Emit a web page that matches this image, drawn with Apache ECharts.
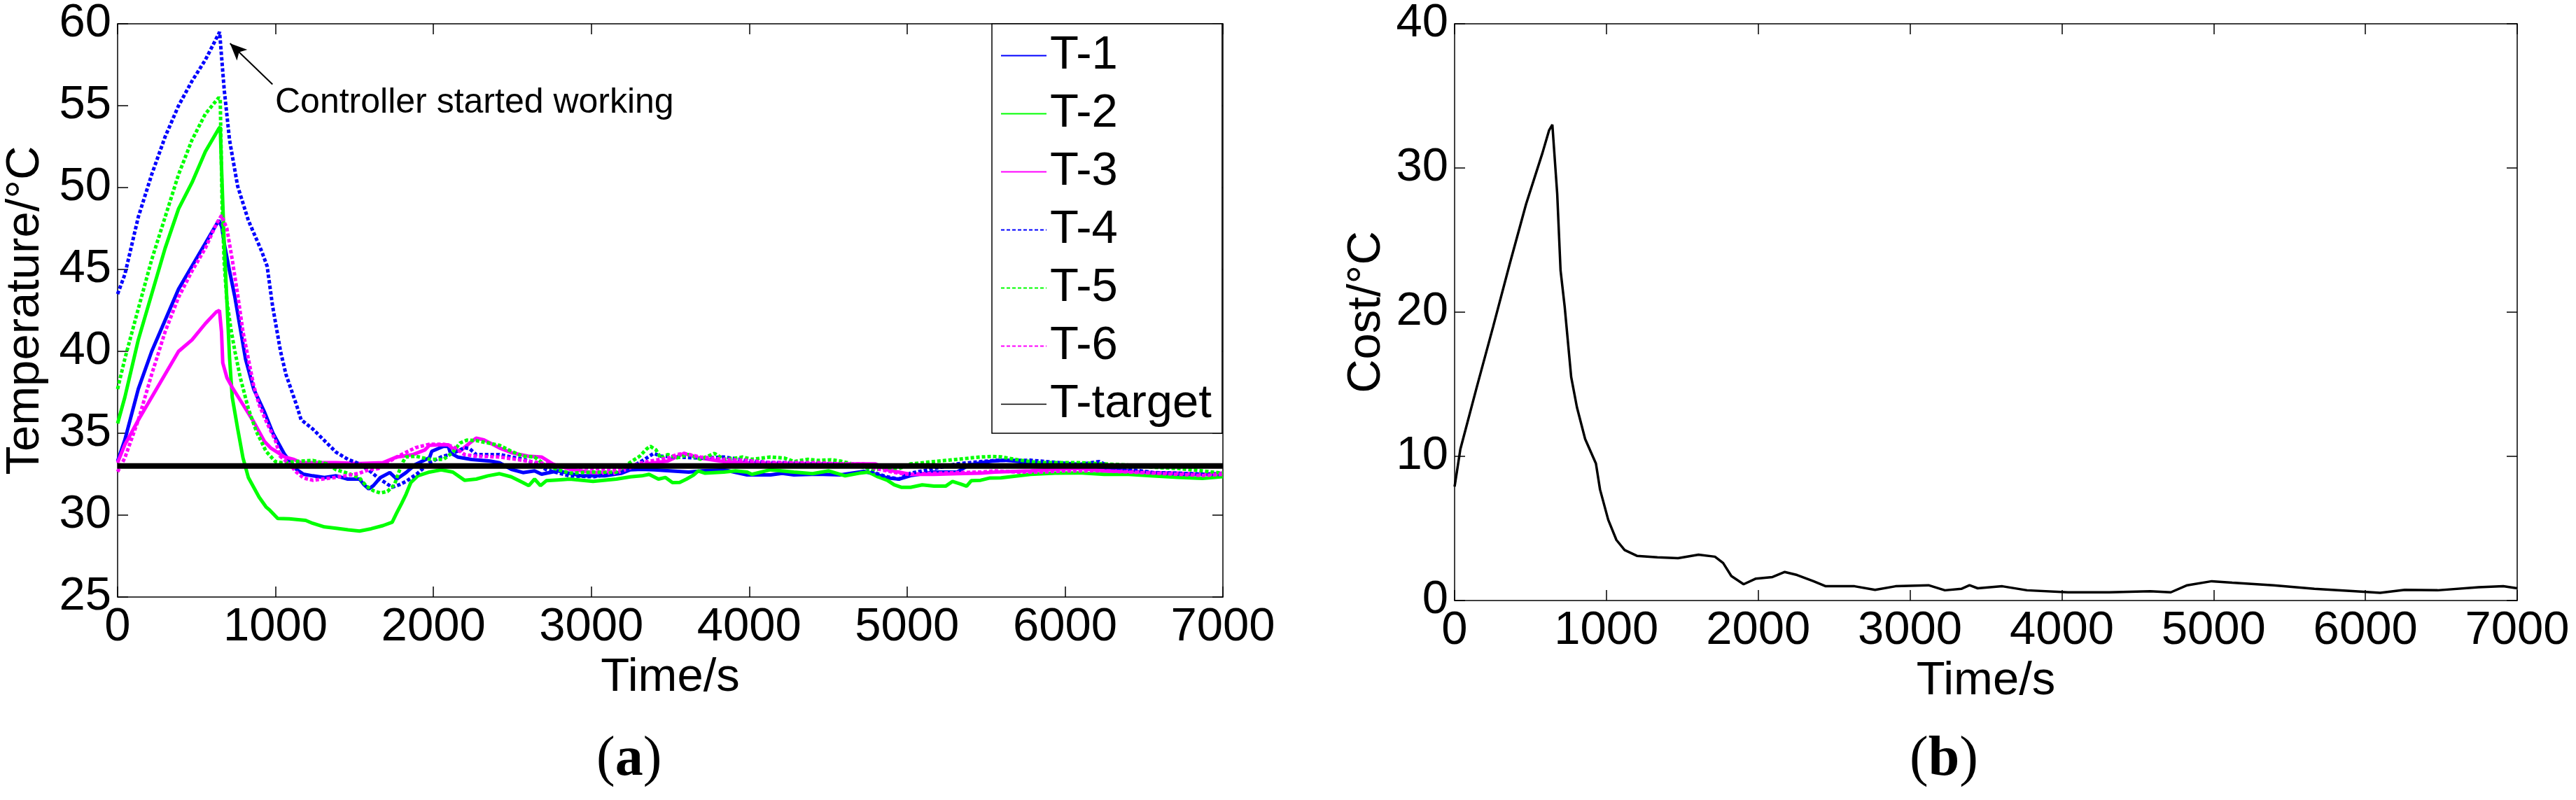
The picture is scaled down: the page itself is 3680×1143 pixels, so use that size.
<!DOCTYPE html>
<html>
<head>
<meta charset="utf-8">
<script src="https://cdn.jsdelivr.net/npm/echarts@6/dist/echarts.min.js"></script>
<style>
  html, body { margin: 0; padding: 0; background: #fff; }
  #chart { width: 3680px; height: 1143px; }
</style>
</head>
<body>
<div id="chart"></div>
<script>
// axis ranges / tick steps
const timeRange = [0, 7000]
const timeStep = 1000
const tempRange = [25, 60]
const tempStep = 5
const costRange = [0, 40]
const costStep = 10

// [time s, temperature °C]
const t1 = [[0,33.3],[46,34.6],[131,37.7],[216,40.0],[301,41.9],[386,43.8],[471,45.2],[556,46.6],[641,48.0],[660,47.6],[675,46.6],[709,44.9],[743,43.3],[777,41.4],[811,39.5],[862,37.7],[930,36.3],[984,35.0],[1058,33.7],[1132,32.8],[1177,32.5],[1236,32.4],[1310,32.3],[1384,32.4],[1458,32.2],[1532,32.2],[1561,31.85],[1591,31.6],[1620,31.8],[1665,32.3],[1724,32.6],[1768,32.2],[1827,32.6],[1887,33.1],[1975,33.5],[1990,33.9],[2064,34.2],[2094,34.2],[2108,33.8],[2153,33.55],[2242,33.4],[2360,33.3],[2419,33.2],[2493,32.8],[2567,32.6],[2641,32.7],[2685,32.5],[2789,32.7],[2937,32.4],[3085,32.4],[3188,32.55],[3248,32.77],[3320,32.8],[3400,32.77],[3617,32.63],[3700,32.7],[3839,32.77],[3987,32.46],[4135,32.46],[4209,32.55],[4283,32.46],[4431,32.5],[4578,32.46],[4726,32.67],[4800,32.5],[4874,32.27],[4948,32.2],[5022,32.41],[5170,32.63],[5318,32.63],[5392,33.06],[5466,33.2],[5540,33.3],[5625,33.35],[5781,33.2],[5937,33.06],[6092,33.0],[6248,32.85],[6403,32.7],[6559,32.56],[6714,32.49],[6870,32.49],[7000,32.55]]
const t2 = [[0,35.6],[46,37.2],[131,40.7],[216,43.5],[301,46.3],[386,48.7],[471,50.3],[556,52.2],[641,53.6],[650,53.7],[658,51.3],[675,46.6],[692,43.1],[709,39.6],[726,37.2],[760,35.3],[794,33.5],[828,32.3],[896,31.1],[940,30.5],[964,30.3],[1014,29.8],[1088,29.78],[1191,29.68],[1236,29.5],[1310,29.28],[1384,29.2],[1460,29.1],[1532,29.03],[1606,29.17],[1680,29.36],[1739,29.57],[1768,30.14],[1798,30.7],[1827,31.28],[1857,31.99],[1901,32.4],[1975,32.63],[2049,32.77],[2123,32.63],[2197,32.13],[2271,32.2],[2345,32.4],[2419,32.53],[2493,32.34],[2567,31.99],[2604,31.8],[2641,32.2],[2678,31.8],[2715,32.1],[2789,32.15],[2863,32.2],[3011,32.06],[3159,32.2],[3248,32.34],[3320,32.4],[3366,32.49],[3425,32.2],[3470,32.3],[3514,31.99],[3560,32.0],[3603,32.2],[3647,32.44],[3677,32.7],[3721,32.56],[3780,32.6],[3839,32.63],[3913,32.7],[3987,32.63],[4017,32.49],[4135,32.77],[4283,32.63],[4401,32.53],[4504,32.7],[4608,32.4],[4697,32.56],[4756,32.63],[4815,32.34],[4874,32.13],[4918,31.85],[4963,31.7],[5022,31.7],[5096,31.85],[5170,31.77],[5244,31.77],[5288,32.06],[5340,31.9],[5377,31.77],[5406,32.1],[5466,32.13],[5525,32.27],[5594,32.28],[5781,32.49],[5937,32.56],[6092,32.58],[6248,32.49],[6403,32.49],[6559,32.39],[6714,32.31],[6870,32.24],[7000,32.35]]
const t3 = [[0,33.2],[46,34.3],[131,35.8],[216,37.2],[301,38.6],[386,40.0],[471,40.7],[556,41.7],[624,42.4],[645,42.5],[658,41.2],[666,39.3],[692,38.4],[726,37.8],[794,36.75],[862,35.7],[930,34.5],[970,34.1],[1058,33.55],[1117,33.4],[1162,33.2],[1236,33.2],[1384,33.2],[1532,33.15],[1680,33.2],[1768,33.55],[1872,33.7],[1946,33.98],[1975,34.26],[2049,34.3],[2094,34.3],[2123,34.05],[2168,33.9],[2230,34.4],[2271,34.7],[2320,34.6],[2419,34.1],[2500,33.8],[2600,33.6],[2685,33.55],[2760,33.1],[2863,32.8],[3011,32.6],[3159,32.56],[3248,32.9],[3320,33.1],[3395,33.2],[3484,33.3],[3587,33.77],[3691,33.48],[3839,33.27],[3987,33.2],[4135,33.16],[4283,33.16],[4431,33.13],[4578,33.13],[4726,33.13],[4800,33.13],[4874,32.77],[4948,32.63],[5022,32.49],[5170,32.49],[5318,32.53],[5466,32.56],[5555,32.63],[5781,32.7],[5937,32.8],[6092,32.85],[6248,32.7],[6403,32.67],[6559,32.6],[6714,32.56],[6870,32.49],[7000,32.56]]
const t4 = [[0,43.5],[46,44.7],[131,48.2],[216,50.8],[301,53.1],[386,55.0],[471,56.5],[556,57.8],[646,59.5],[675,56.0],[709,52.9],[760,50.1],[828,48.0],[913,46.1],[947,45.2],[981,42.8],[1032,40.0],[1066,38.6],[1134,36.7],[1162,35.83],[1236,35.26],[1310,34.55],[1384,33.84],[1458,33.41],[1532,33.13],[1606,32.63],[1650,32.27],[1694,31.99],[1739,31.7],[1783,31.85],[1827,32.06],[1901,32.56],[1975,33.2],[2049,33.55],[2123,33.77],[2197,34.12],[2230,34.05],[2271,33.7],[2419,33.7],[2567,33.41],[2641,33.2],[2715,32.77],[2863,32.4],[3011,32.34],[3159,32.55],[3248,32.9],[3320,33.3],[3395,33.77],[3440,33.6],[3543,33.55],[3691,33.48],[3839,33.55],[3987,33.34],[4135,33.2],[4283,33.2],[4431,33.13],[4578,33.13],[4726,33.0],[4800,32.56],[4874,32.34],[4948,32.2],[5022,32.56],[5170,32.84],[5318,33.13],[5392,33.2],[5466,33.27],[5555,33.34],[5781,33.35],[6092,33.1],[6216,33.27],[6300,32.9],[6403,32.8],[6559,32.6],[6714,32.56],[6870,32.5],[7000,32.49]]
const t5 = [[0,37.7],[46,39.55],[131,42.6],[216,45.6],[301,48.2],[386,50.8],[471,52.9],[556,54.5],[641,55.5],[650,55.4],[662,48.9],[675,45.4],[692,43.1],[717,41.4],[743,40.0],[777,38.4],[828,36.5],[879,35.1],[910,34.5],[940,33.9],[999,33.27],[1044,33.2],[1162,33.3],[1236,33.34],[1325,33.13],[1384,32.77],[1458,32.56],[1532,32.27],[1576,31.77],[1620,31.49],[1665,31.35],[1709,31.45],[1753,31.85],[1780,32.6],[1810,33.3],[1827,33.55],[1887,33.6],[1975,33.41],[2064,33.4],[2123,33.84],[2168,34.4],[2212,34.58],[2271,34.55],[2345,34.41],[2419,34.26],[2493,33.9],[2567,33.6],[2641,33.55],[2715,33.0],[2863,32.56],[3011,32.63],[3159,32.63],[3232,33.13],[3307,33.6],[3351,34.05],[3374,34.2],[3410,33.98],[3440,33.48],[3484,33.7],[3543,33.5],[3617,33.7],[3691,33.41],[3780,33.77],[3839,33.41],[3913,33.48],[3957,33.55],[4017,33.41],[4076,33.48],[4135,33.55],[4224,33.48],[4283,33.27],[4372,33.41],[4431,33.34],[4519,33.38],[4578,33.3],[4652,33.13],[4726,32.91],[4800,32.77],[4874,32.91],[4948,32.84],[5022,33.13],[5096,33.2],[5170,33.27],[5244,33.34],[5318,33.41],[5392,33.48],[5466,33.55],[5540,33.58],[5594,33.56],[5719,33.35],[5843,33.2],[6092,33.2],[6248,33.13],[6403,33.06],[6559,32.92],[6714,32.85],[6870,32.7],[7000,32.56]]
const t6 = [[0,32.65],[46,33.5],[131,35.8],[216,38.6],[301,41.2],[386,43.3],[471,44.9],[556,46.3],[624,47.75],[658,48.3],[692,47.5],[726,45.6],[760,43.5],[794,41.2],[828,39.55],[862,37.9],[896,36.75],[947,35.6],[998,34.6],[1029,33.6],[1088,33.13],[1132,32.63],[1177,32.27],[1236,32.13],[1354,32.27],[1443,32.4],[1532,32.56],[1591,32.77],[1650,32.84],[1709,33.2],[1768,33.55],[1827,33.84],[1887,34.12],[1975,34.33],[2064,34.33],[2123,34.2],[2197,33.7],[2271,33.6],[2419,33.55],[2567,33.34],[2715,33.13],[2863,32.98],[3011,32.84],[3159,32.77],[3248,32.98],[3320,33.2],[3395,33.34],[3484,33.48],[3543,33.7],[3587,33.77],[3691,33.55],[3839,33.4],[3987,33.34],[4135,33.2],[4283,33.2],[4431,33.2],[4578,33.13],[4726,33.13],[4800,32.84],[4874,32.7],[4948,32.56],[5022,32.49],[5170,32.56],[5318,32.6],[5466,32.63],[5555,32.7],[5700,32.63],[5843,32.63],[6000,32.7],[6248,32.7],[6403,32.63],[6559,32.56],[6714,32.49],[6870,32.42],[7000,32.49]]
const target = [[0,33],[7000,33]]

// [time s, cost °C]
const cost = [[0,7.9],[38,10.5],[146,14.8],[254,19.0],[362,23.3],[471,27.5],[579,31.05],[622,32.6],[644,33.0],[676,28.2],[698,22.9],[725,20.4],[768,15.5],[806,13.4],[860,11.2],[931,9.5],[958,7.7],[1012,5.6],[1066,4.2],[1120,3.5],[1201,3.1],[1336,3.0],[1472,2.94],[1607,3.18],[1715,3.04],[1769,2.6],[1823,1.7],[1904,1.13],[1985,1.52],[2094,1.63],[2175,1.98],[2256,1.77],[2364,1.34],[2445,0.99],[2635,0.99],[2770,0.74],[2905,0.99],[3122,1.06],[3230,0.71],[3338,0.81],[3392,1.06],[3446,0.85],[3608,0.99],[3771,0.71],[4041,0.57],[4312,0.57],[4582,0.64],[4718,0.57],[4826,1.06],[4988,1.34],[5123,1.24],[5394,1.06],[5664,0.81],[5934,0.64],[6097,0.53],[6259,0.74],[6476,0.71],[6746,0.92],[6908,0.99],[7000,0.85]]

// arrow of the annotation, tail -> head, in data units
const arrowFrom = [981, 56.3]
const arrowTo = [712, 58.8]

const font = 'Liberation Sans'
const fs = 67
const dots = [5, 3]

function boxAxes(gridIndex, range, step, isX) {
  const common = {
    gridIndex,
    type: 'value',
    min: range[0],
    max: range[1],
    interval: step,
    splitLine: { show: false },
    axisLine: { show: true, onZero: false, lineStyle: { color: '#000', width: 1.5 } },
    axisTick: { show: true, inside: true, length: 15, lineStyle: { color: '#000', width: 1.5 } }
  }
  const main = Object.assign({}, common, {
    position: isX ? 'bottom' : 'left',
    axisLabel: {
      color: '#000', fontSize: fs, fontFamily: font, margin: isX ? 10 : 9,
      formatter: v => String(v)
    }
  })
  const other = Object.assign({}, common, {
    position: isX ? 'top' : 'right',
    axisLabel: { show: false }
  })
  return [main, other]
}

const xa = boxAxes(0, timeRange, timeStep, true)
const xb = boxAxes(1, timeRange, timeStep, true)
const ya = boxAxes(0, tempRange, tempStep, false)
const yb = boxAxes(1, costRange, costStep, false)
const nameStyle = { color: '#000', fontSize: fs, fontFamily: font }
Object.assign(xa[0], { name: 'Time/s', nameLocation: 'middle', nameGap: 74, nameTextStyle: nameStyle })
Object.assign(xb[0], { name: 'Time/s', nameLocation: 'middle', nameGap: 74, nameTextStyle: nameStyle })
Object.assign(ya[0], { name: 'Temperature/°C', nameLocation: 'middle', nameGap: 98, nameTextStyle: nameStyle })
Object.assign(yb[0], { name: 'Cost/°C', nameLocation: 'middle', nameGap: 92, nameTextStyle: nameStyle })

function tempLine(name, data, color, dashed) {
  return {
    name,
    type: 'line',
    xAxisIndex: 0,
    yAxisIndex: 0,
    data,
    symbol: 'none',
    lineStyle: { color, width: 5, type: dashed ? dots : 'solid' },
    itemStyle: { color }
  }
}

const chart = echarts.init(document.getElementById('chart'), null, { renderer: 'canvas' })
chart.setOption({
  animation: false,
  backgroundColor: '#fff',
  grid: [
    { left: 168, top: 34, width: 1579, height: 819 },
    { left: 2078, top: 34, width: 1518, height: 824 }
  ],
  xAxis: [xa[0], xa[1], xb[0], xb[1]],
  yAxis: [ya[0], ya[1], yb[0], yb[1]],
  legend: {
    orient: 'vertical',
    left: 1417,
    top: 34,
    padding: [12, 15, 8, 12],
    itemWidth: 65,
    itemHeight: 14,
    itemGap: 16,
    borderColor: '#000',
    borderWidth: 1.5,
    backgroundColor: '#fff',
    itemStyle: { opacity: 0 },
    textStyle: { color: '#000', fontSize: fs, fontFamily: font },
    data: ['T-1', 'T-2', 'T-3', 'T-4', 'T-5', 'T-6',
      { name: 'T-target', lineStyle: { width: 1.5 } }]
  },
  graphic: [
    {
      type: 'text',
      left: 393,
      top: 122,
      style: { text: 'Controller started working', fill: '#000', font: '50px "Liberation Sans"' }
    },
    {
      type: 'text',
      left: 852,
      top: 1046,
      style: {
        text: '{n|(}{b|a}{n|)}',
        rich: {
          n: { fontSize: 80, fontFamily: 'Liberation Serif', fill: '#000' },
          b: { fontSize: 80, fontFamily: 'Liberation Serif', fontWeight: 'bold', fill: '#000' }
        }
      }
    },
    {
      type: 'text',
      left: 2728,
      top: 1046,
      style: {
        text: '{n|(}{b|b}{n|)}',
        rich: {
          n: { fontSize: 80, fontFamily: 'Liberation Serif', fill: '#000' },
          b: { fontSize: 80, fontFamily: 'Liberation Serif', fontWeight: 'bold', fill: '#000' }
        }
      }
    }
  ],
  series: [
    tempLine('T-1', t1, '#0000ff', false),
    tempLine('T-2', t2, '#00ff00', false),
    tempLine('T-3', t3, '#ff00ff', false),
    tempLine('T-4', t4, '#0000ff', true),
    tempLine('T-5', t5, '#00ff00', true),
    tempLine('T-6', t6, '#ff00ff', true),
    {
      name: 'T-target',
      type: 'line',
      xAxisIndex: 0,
      yAxisIndex: 0,
      data: target,
      symbol: 'none',
      lineStyle: { color: '#000', width: 8 },
      itemStyle: { color: '#000' },
      markLine: {
        silent: true,
        symbol: ['none', 'arrow'],
        symbolSize: [16, 24],
        label: { show: false },
        lineStyle: { color: '#000', width: 2, type: 'solid' },
        data: [[{ coord: arrowFrom }, { coord: arrowTo }]]
      }
    },
    {
      name: 'Cost',
      type: 'line',
      xAxisIndex: 2,
      yAxisIndex: 2,
      data: cost,
      symbol: 'none',
      lineStyle: { color: '#000', width: 3.5 },
      itemStyle: { color: '#000' }
    }
  ]
})
</script>
</body>
</html>
